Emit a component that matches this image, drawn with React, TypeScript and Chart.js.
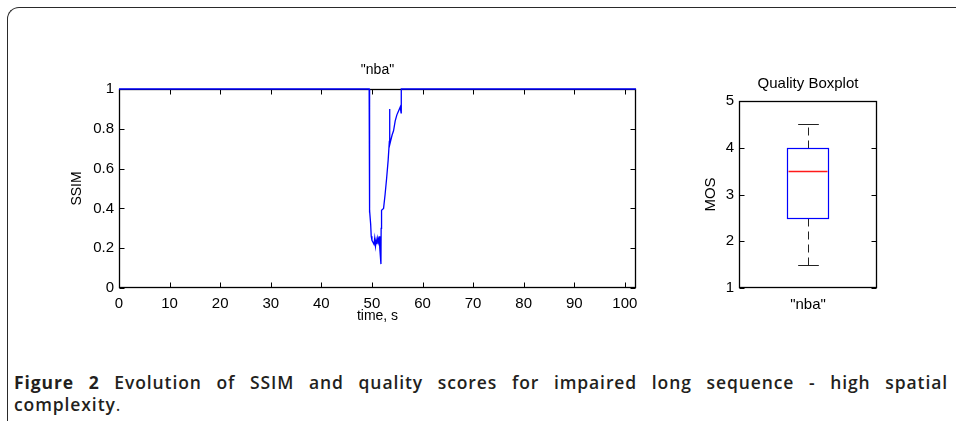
import React, { useEffect, useRef } from "react";
import { Chart, registerables } from "chart.js";

Chart.register(...registerables);
Chart.defaults.font.family = '"Liberation Sans", Arial, sans-serif';
Chart.defaults.color = "#000";

// ---- SSIM time series ("nba") ----
const timeS = [
  0, 49.45, 49.47, 49.52, 49.55, 49.6, 49.75, 49.86, 50.0, 50.2, 50.4, 50.55, 50.7,
  50.85, 51.0, 51.15, 51.3, 51.45, 51.55, 51.78, 51.82, 51.9, 52.3, 52.6, 52.9, 53.2,
  53.45, 53.48, 53.55, 53.7, 54.0, 54.27, 54.6, 54.93, 55.26, 55.6, 55.76, 55.8, 102.2,
];
const ssim = [
  1, 1, 0.45, 0.44, 0.38, 0.39, 0.32, 0.26, 0.24, 0.23, 0.22, 0.25, 0.21, 0.24, 0.22,
  0.25, 0.23, 0.26, 0.2, 0.12, 0.3, 0.39, 0.4, 0.47, 0.55, 0.64, 0.74, 0.9, 0.72, 0.74,
  0.77, 0.79, 0.84, 0.87, 0.89, 0.91, 0.88, 1, 1,
];
const timeMax = 102.2;
const timeTicks = [0, 10, 20, 30, 40, 50, 60, 70, 80, 90, 100];
const ssimTicks = [0, 0.2, 0.4, 0.6, 0.8, 1];

// ---- Quality boxplot ----
const boxCategories = ['"nba"'];
const mosLowWhisker = [1.5];
const mosQ1 = [2.5];
const mosMedian = [3.5];
const mosQ3 = [4];
const mosHighWhisker = [4.5];
const mosTicks = [1, 2, 3, 4, 5];

const TICK_FONT = { size: 15 };

const matlabAxes = {
  id: "matlabAxes",
  beforeDatasetsDraw(chart: any, _args: any, opts: any) {
    const { ctx, chartArea: a, scales } = chart;
    const L = Math.round(a.left) + 0.5;
    const R = Math.round(a.right) - 0.5;
    const T = Math.round(a.top) + 0.5;
    const B = Math.round(a.bottom) - 0.5;
    const len = 5;
    ctx.save();
    ctx.strokeStyle = "#000";
    ctx.lineWidth = 1;
    ctx.beginPath();
    if (opts.xTicks) {
      const xs = scales.x;
      xs.ticks.forEach((t: any) => {
        const px = Math.round(xs.getPixelForValue(t.value)) + 0.5;
        ctx.moveTo(px, B);
        ctx.lineTo(px, B - len);
        ctx.moveTo(px, T);
        ctx.lineTo(px, T + len);
      });
    }
    const ys = scales.y;
    ys.ticks.forEach((t: any) => {
      const py = Math.round(ys.getPixelForValue(t.value)) + 0.5;
      ctx.moveTo(L, py);
      ctx.lineTo(L + len, py);
      ctx.moveTo(R, py);
      ctx.lineTo(R - len, py);
    });
    ctx.stroke();
    ctx.lineWidth = 1.3;
    ctx.strokeRect(L, T, R - L, B - T);
    ctx.restore();
  },
};

const boxExtras = {
  id: "boxExtras",
  afterDatasetsDraw(chart: any) {
    const { ctx, scales } = chart;
    const ys = scales.y;
    const meta = chart.getDatasetMeta(0);
    meta.data.forEach((bar: any, i: number) => {
      const { x, width } = bar.getProps(["x", "width"], true);
      const yMed = Math.round(ys.getPixelForValue(mosMedian[i])) + 0.5;
      const yQ1 = Math.round(ys.getPixelForValue(mosQ1[i])) + 0.5;
      const yQ3 = Math.round(ys.getPixelForValue(mosQ3[i])) + 0.5;
      const yLo = Math.round(ys.getPixelForValue(mosLowWhisker[i])) + 0.5;
      const yHi = Math.round(ys.getPixelForValue(mosHighWhisker[i])) + 0.5;
      const cx = Math.round(x) + 0.5;
      const xl = Math.round(x - width / 2) + 0.5;
      const xr = Math.round(x + width / 2) - 0.5;
      ctx.save();
      // whiskers (dashed)
      ctx.strokeStyle = "#222";
      ctx.lineWidth = 1;
      ctx.setLineDash([8, 5]);
      ctx.beginPath();
      ctx.moveTo(cx, yQ3);
      ctx.lineTo(cx, yHi);
      ctx.moveTo(cx, yQ1);
      ctx.lineTo(cx, yLo);
      ctx.stroke();
      ctx.setLineDash([]);
      // caps
      const cw = width / 4;
      ctx.beginPath();
      ctx.moveTo(cx - cw, yHi);
      ctx.lineTo(cx + cw, yHi);
      ctx.moveTo(cx - cw, yLo);
      ctx.lineTo(cx + cw, yLo);
      ctx.stroke();
      // box outline (crisp)
      ctx.strokeStyle = "#0000ff";
      ctx.lineWidth = 1.2;
      ctx.strokeRect(xl, yQ3, xr - xl, yQ1 - yQ3);
      // median
      ctx.strokeStyle = "#ff1a1a";
      ctx.lineWidth = 1.4;
      ctx.beginPath();
      ctx.moveTo(xl + 1, yMed);
      ctx.lineTo(xr - 1, yMed);
      ctx.stroke();
      ctx.restore();
    });
  },
};

export default function App() {
  const leftRef = useRef<HTMLCanvasElement>(null);
  const rightRef = useRef<HTMLCanvasElement>(null);

  useEffect(() => {
    const lineChart = new Chart(leftRef.current!, {
      type: "line",
      data: {
        datasets: [
          {
            data: timeS.map((t, i) => ({ x: t, y: ssim[i] })),
            borderColor: "#0000ff",
            borderWidth: 1.3,
            pointRadius: 0,
            tension: 0,
            clip: false,
          } as any,
        ],
      },
      options: {
        animation: false,
        responsive: false,
        events: [],
        layout: { padding: { left: 0, right: 24, top: 0, bottom: 0 } },
        plugins: {
          legend: { display: false },
          tooltip: { enabled: false },
          title: {
            display: true,
            fullSize: false,
            text: '"nba"',
            color: "#000",
            font: { size: 14, weight: "normal" },
            padding: { top: 2, bottom: 10.2 },
          },
          matlabAxes: { xTicks: true },
        } as any,
        scales: {
          x: {
            type: "linear",
            min: 0,
            max: timeMax,
            grid: { display: false, drawTicks: false },
            border: { display: false },
            ticks: { font: TICK_FONT, padding: 7, maxRotation: 0 },
            afterBuildTicks: (s: any) => {
              s.ticks = timeTicks.map((v) => ({ value: v }));
            },
            afterFit: (s: any) => {
              s.height = 37;
            },
            title: { display: true, text: "time, s", font: { size: 14 }, padding: { top: 0, bottom: 0 } },
          },
          y: {
            min: 0,
            max: 1,
            grid: { display: false, drawTicks: false },
            border: { display: false },
            ticks: { font: TICK_FONT, padding: 5, callback: (v: any) => String(v) },
            afterBuildTicks: (s: any) => {
              s.ticks = ssimTicks.map((v) => ({ value: v }));
            },
            afterFit: (s: any) => {
              s.width = 69;
            },
            title: { display: true, text: "SSIM", font: { size: 14 }, padding: { top: 19, bottom: 0 } },
          },
        },
      },
      plugins: [matlabAxes],
    });

    const boxChart = new Chart(rightRef.current!, {
      type: "bar",
      data: {
        labels: boxCategories,
        datasets: [
          {
            data: boxCategories.map((_, i) => [mosQ1[i], mosQ3[i]]),
            backgroundColor: "rgba(0,0,0,0)",
            borderColor: "rgba(0,0,0,0)",
            borderWidth: 0,
            borderSkipped: false,
            barPercentage: 0.3,
            categoryPercentage: 1,
          } as any,
        ],
      },
      options: {
        animation: false,
        responsive: false,
        events: [],
        layout: { padding: { left: 0, right: 13, top: 0, bottom: 0 } },
        plugins: {
          legend: { display: false },
          tooltip: { enabled: false },
          title: {
            display: true,
            fullSize: false,
            text: "Quality Boxplot",
            color: "#000",
            font: { size: 15, weight: "normal" },
            padding: { top: 15, bottom: 8 },
          },
          matlabAxes: { xTicks: false },
        } as any,
        scales: {
          x: {
            grid: { display: false, drawTicks: false },
            border: { display: false },
            ticks: { font: TICK_FONT, padding: 8 },
            afterFit: (s: any) => {
              s.height = 32;
            },
          },
          y: {
            min: 1,
            max: 5,
            grid: { display: false, drawTicks: false },
            border: { display: false },
            ticks: { font: { size: 15 }, padding: 5 },
            afterBuildTicks: (s: any) => {
              s.ticks = mosTicks.map((v) => ({ value: v }));
            },
            afterFit: (s: any) => {
              s.width = 49;
            },
            title: { display: true, text: "MOS", font: { size: 15 }, padding: { top: 12, bottom: 0 } },
          },
        },
      },
      plugins: [matlabAxes, boxExtras],
    });

    return () => {
      lineChart.destroy();
      boxChart.destroy();
    };
  }, []);

  const captionFont = '"Open Sans", "Noto Sans", "DejaVu Sans", sans-serif';

  return (
    <div
      style={{
        position: "absolute",
        left: 0,
        top: 0,
        width: 956,
        height: 421,
        overflow: "hidden",
        background: "#fff",
      }}
    >
      <div
        style={{
          position: "absolute",
          left: 7,
          top: 7,
          width: 1000,
          height: 500,
          borderLeft: "1.5px solid #2a2a2a",
          borderTop: "1.5px solid #2a2a2a",
          borderTopLeftRadius: 12,
        }}
      />
      <canvas
        ref={leftRef}
        width={610}
        height={265}
        style={{ position: "absolute", left: 50, top: 60, width: 610, height: 265 }}
      />
      <canvas
        ref={rightRef}
        width={200}
        height={260}
        style={{ position: "absolute", left: 690, top: 60, width: 200, height: 260 }}
      />
      <div
        style={{
          position: "absolute",
          left: 14,
          top: 371,
          width: 934,
          fontFamily: captionFont,
          fontSize: 17.5,
          letterSpacing: "0.9px",
          lineHeight: "22px",
          color: "#231f20",
          fontWeight: 600,
        }}
      >
        <div style={{ textAlign: "justify", textAlignLast: "justify", whiteSpace: "nowrap" as any }}>
          <span style={{ fontWeight: 700 }}>Figure 2</span> Evolution of SSIM and quality scores for impaired long
          sequence - high spatial
        </div>
        <div>
          complexity<span style={{ fontWeight: 400 }}>.</span>
        </div>
      </div>
    </div>
  );
}
